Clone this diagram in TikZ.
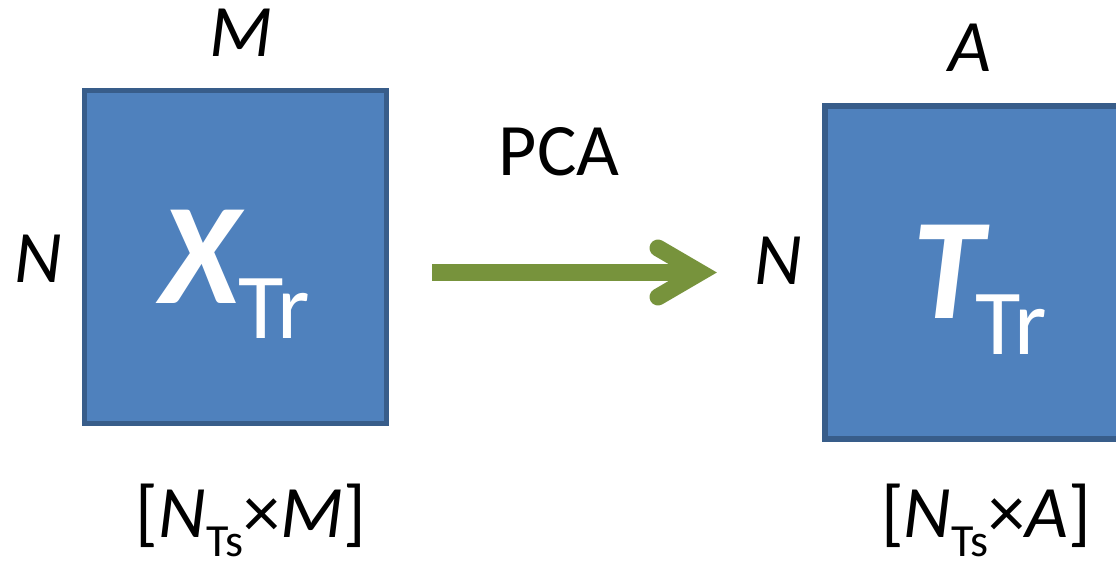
\documentclass[tikz,border=0pt]{standalone}
\usepackage{fontspec}
\setmainfont{Carlito}
\definecolor{boxfill}{HTML}{4F81BD}
\definecolor{boxline}{HTML}{385D8A}
\definecolor{arrowgreen}{HTML}{77933C}
\begin{document}
\begin{tikzpicture}[x=1pt,y=-1pt,
  matrixbox/.style={draw=boxline,fill=boxfill,line width=5.5pt,rectangle,inner sep=0pt,
    minimum width=302pt,minimum height=333pt},
  dimlbl/.style={inner sep=0pt,anchor=base,font=\fontsize{74}{74}\selectfont\itshape},
  sizelbl/.style={inner sep=0pt,anchor=base,font=\fontsize{74}{74}\selectfont},
  biglbl/.style={inner sep=0pt,anchor=base,text=white,font=\fontsize{144}{144}\selectfont\bfseries\itshape},
  sublbl/.style={inner sep=0pt,anchor=base,text=white,font=\fontsize{93}{93}\selectfont},
  greenline/.style={draw=arrowgreen,line width=17pt}]
\useasboundingbox (0,0) rectangle (1116,561);
\clip (0,0) rectangle (1116,561);
% boxes
\node[matrixbox] (xbox) at (235.5,257) {};
\node[matrixbox] (tbox) at (976,272.5) {};
% box contents
\node[biglbl] (xsym) at (200,303) {X};
\node[sublbl] (xsub) at (274,338) {Tr};
\node[biglbl] (tsym) at (948,318) {T};
\node[sublbl] (tsub) at (1011,354) {Tr};
% dimension labels
\node[dimlbl] (m) at (241,57) {M};
\node[dimlbl] (nl) at (38,283) {N};
\node[dimlbl] (a) at (970,72) {A};
\node[dimlbl] (nr) at (778,284) {N};
\node[sizelbl] (pca) at (559,176) {PCA};
\node[sizelbl] (szx) at (251,537) {[\textit{N}\raisebox{-19pt}[0pt][0pt]{\fontsize{46}{46}\selectfont Ts}×\textit{M}]};
\node[sizelbl] (szt) at (986,537) {[\textit{N}\raisebox{-19pt}[0pt][0pt]{\fontsize{46}{46}\selectfont Ts}×\textit{A}]};
% arrow
\coordinate (ashaft) at (432,272.5);
\coordinate (avertex) at (700,272.5);
\coordinate (aup) at (658,248);
\coordinate (adown) at (658,297);
\draw[greenline,line cap=butt] (ashaft) -- (avertex);
\draw[greenline,line cap=round,line join=miter] (aup) -- (avertex) -- (adown);
\end{tikzpicture}
\end{document}
